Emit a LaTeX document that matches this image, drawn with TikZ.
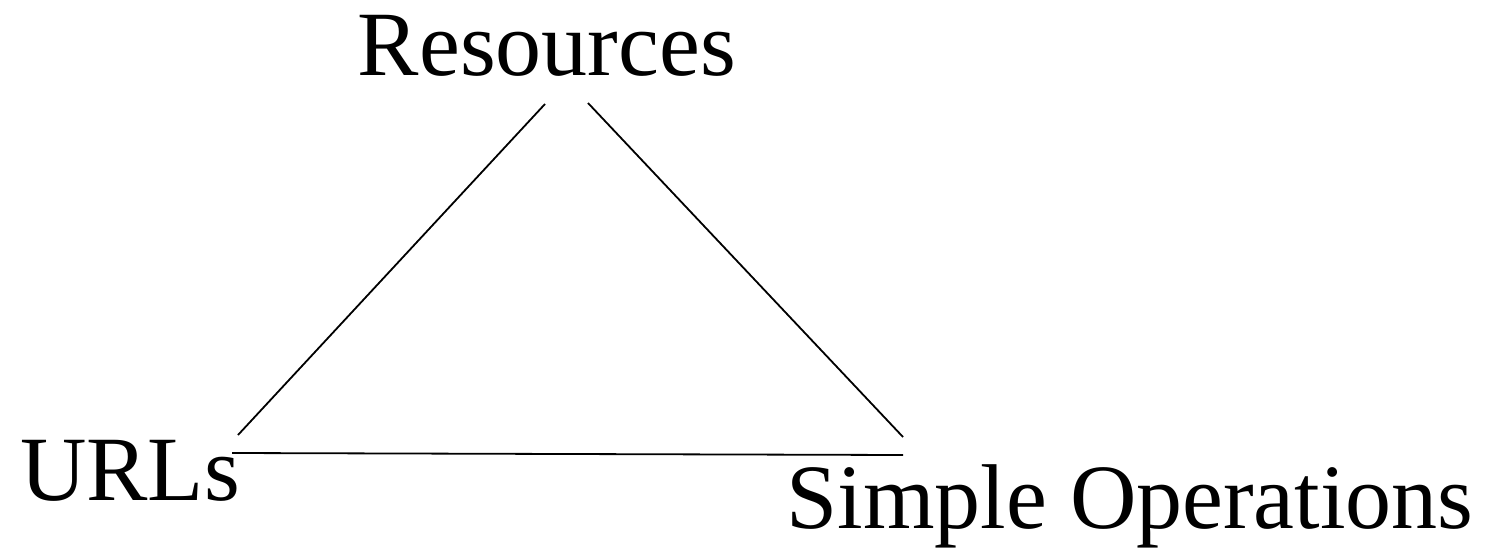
\documentclass[tikz,border=0pt]{standalone}
\usepackage{fontspec}
\setmainfont{Liberation Serif}
\begin{document}
\begin{tikzpicture}[x=1pt,y=-1pt,
  lbl/.style={font=\fontsize{92}{100}\selectfont, inner sep=0pt, anchor=base},
  edge/.style={line width=1.8pt, black}]
\useasboundingbox (0,0) rectangle (1488,551);
\node[lbl] (res) at (547,75) {Resources};
\node[lbl] (url) at (130,500) {URLs};
\node[lbl] (ops) at (1130,528) {Simple Operations};
\coordinate (a1) at (545,104);
\coordinate (a2) at (238,435);
\coordinate (b1) at (588,103);
\coordinate (b2) at (903,437);
\coordinate (c1) at (232,453);
\coordinate (c2) at (903,455);
\draw[edge] (a1) -- (a2);
\draw[edge] (b1) -- (b2);
\draw[edge] (c1) -- (c2);
\end{tikzpicture}
\end{document}
